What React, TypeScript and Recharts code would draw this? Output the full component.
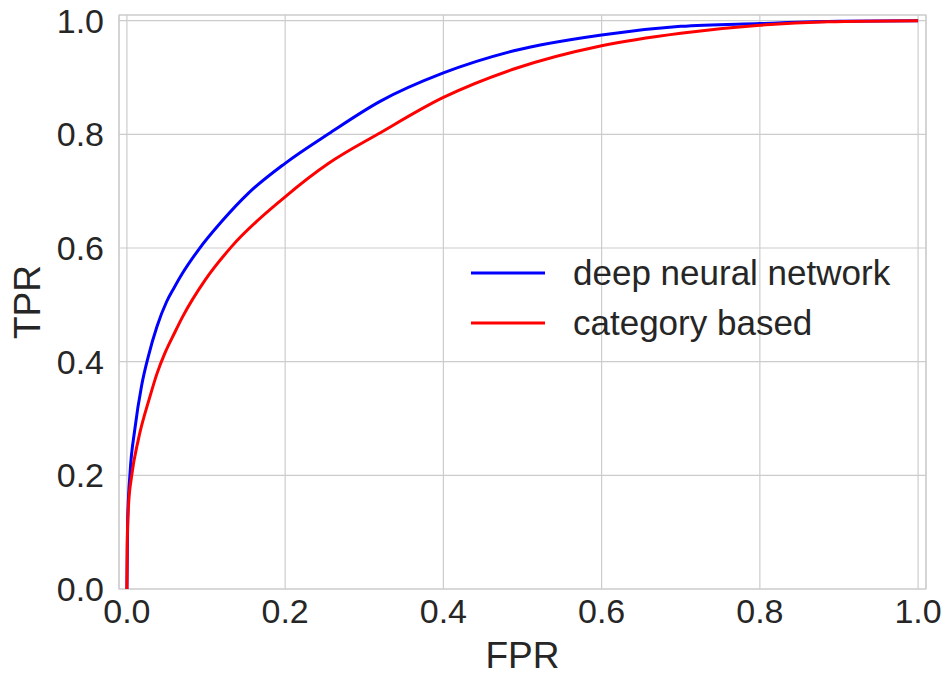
import { LineChart, Line, XAxis, YAxis, CartesianGrid, ReferenceArea } from 'recharts';

const dnnFpr = [0, 0.0005, 0.001, 0.004, 0.01, 0.0186, 0.027, 0.038, 0.05, 0.06, 0.07, 0.09, 0.12, 0.154, 0.2, 0.255, 0.32, 0.4, 0.489, 0.6, 0.7, 0.8, 0.9, 1.0];
const dnnTpr = [0, 0.06, 0.123, 0.205, 0.281, 0.358, 0.409, 0.462, 0.505, 0.531, 0.555, 0.596, 0.647, 0.697, 0.749, 0.801, 0.858, 0.908, 0.947, 0.975, 0.99, 0.995, 0.999, 1.0];

const catFpr = [0, 0.0003, 0.002, 0.006, 0.0143, 0.029, 0.038, 0.048, 0.06, 0.07, 0.099, 0.132, 0.2, 0.255, 0.318, 0.4, 0.489, 0.6, 0.7, 0.8, 0.886, 1.0];
const catTpr = [0, 0.076, 0.146, 0.199, 0.262, 0.338, 0.379, 0.415, 0.45, 0.478, 0.544, 0.602, 0.69, 0.749, 0.801, 0.865, 0.915, 0.956, 0.978, 0.992, 0.998, 1.0];

const axisTicks = [0, 0.2, 0.4, 0.6, 0.8, 1.0];

const series = [
  { name: 'deep neural network', color: '#0000ff', data: dnnFpr.map((x, i) => ({ fpr: x, tpr: dnnTpr[i] })) },
  { name: 'category based', color: '#ff0000', data: catFpr.map((x, i) => ({ fpr: x, tpr: catTpr[i] })) },
];

const font = 'Arial, "Liberation Sans", sans-serif';
const textColor = '#262626';
const gridColor = '#cccccc';

// legend drawn outside the chart so it doesn't eat into the plot area
function RocLegend() {
  return (
    <div style={{ position: 'absolute', left: 471, top: 248, fontFamily: font, fontSize: 35, color: textColor }}>
      {series.map((s) => (
        <div key={s.name} style={{ display: 'flex', alignItems: 'center', height: 50 }}>
          <svg width={74} height={6} style={{ marginRight: 28 }}>
            <line x1={0} y1={3} x2={74} y2={3} stroke={s.color} strokeWidth={3} />
          </svg>
          <span>{s.name}</span>
        </div>
      ))}
    </div>
  );
}

export default function App() {
  return (
    <div style={{ position: 'absolute', left: 0, top: 0, width: 945, height: 678, background: '#fff' }}>
      <LineChart width={945} height={678} margin={{ top: 15, right: 19, bottom: 0, left: 0 }}>
        <CartesianGrid stroke={gridColor} strokeWidth={1.2} />
        <ReferenceArea
          x1={-0.01}
          x2={1.01}
          y1={0}
          y2={1.01}
          fill="none"
          stroke={gridColor}
          strokeWidth={1.2}
          ifOverflow="visible"
        />
        <XAxis
          type="number"
          dataKey="fpr"
          domain={[-0.01, 1.01]}
          allowDataOverflow
          ticks={axisTicks}
          tickFormatter={(v) => v.toFixed(1)}
          axisLine={false}
          tickLine={false}
          tickSize={0}
          tickMargin={10}
          height={89}
          tick={{ fill: textColor, fontSize: 34, fontFamily: font }}
          label={{ value: 'FPR', position: 'insideBottom', offset: 10, fill: textColor, fontSize: 37, fontFamily: font }}
        />
        <YAxis
          type="number"
          dataKey="tpr"
          domain={[0, 1.01]}
          allowDataOverflow
          ticks={axisTicks}
          tickFormatter={(v) => v.toFixed(1)}
          axisLine={false}
          tickLine={false}
          tickSize={0}
          tickMargin={15}
          width={119}
          tick={{ fill: textColor, fontSize: 34, fontFamily: font }}
          label={{ value: 'TPR', angle: -90, position: 'insideLeft', offset: 27, fill: textColor, fontSize: 37, fontFamily: font, style: { textAnchor: 'middle' } }}
        />
        {series.map((s) => (
          <Line
            key={s.name}
            data={s.data}
            dataKey="tpr"
            name={s.name}
            type="monotone"
            stroke={s.color}
            strokeWidth={3}
            dot={false}
            isAnimationActive={false}
          />
        ))}
      </LineChart>
      <RocLegend />
    </div>
  );
}
